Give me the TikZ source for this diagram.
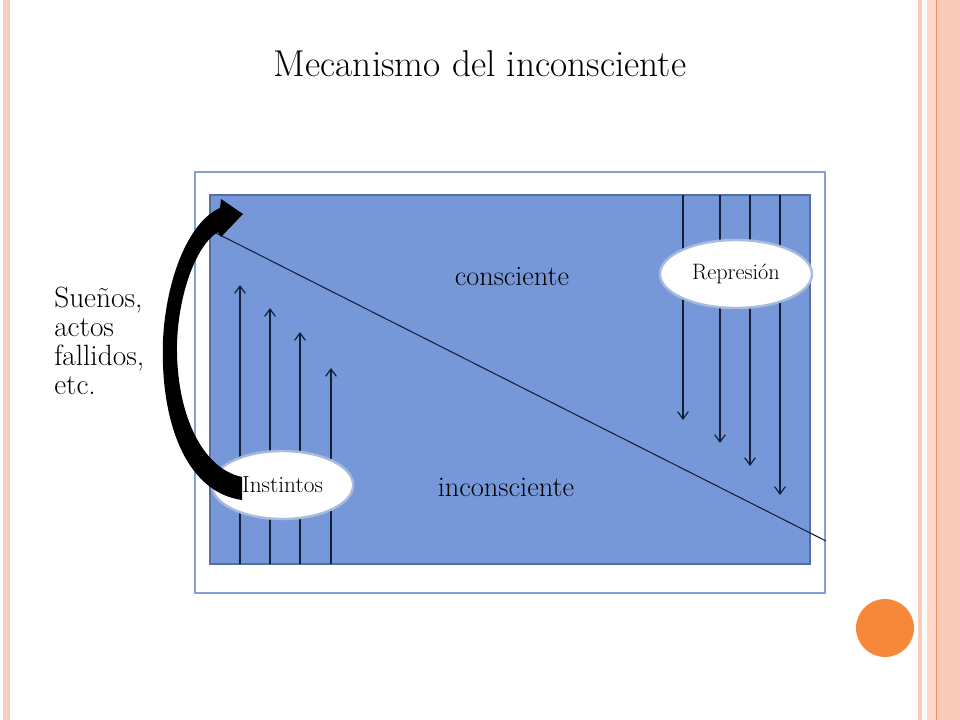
\documentclass[tikz,border=0pt]{standalone}
\usetikzlibrary{arrows.meta,shapes.geometric}
\definecolor{innerfill}{RGB}{119,152,216}
\definecolor{innerdraw}{RGB}{86,110,162}
\definecolor{framec}{RGB}{130,161,217}
\definecolor{ellborder}{RGB}{168,186,222}
\definecolor{peach}{RGB}{251,203,186}
\definecolor{peachlight}{RGB}{253,216,203}
\definecolor{orangeline}{RGB}{236,142,92}
\definecolor{orangedot}{RGB}{247,136,58}
\definecolor{navy}{RGB}{22,30,58}
\begin{document}
\begin{tikzpicture}[x=0.75pt,y=-0.75pt,
  vline/.style={navy, line width=0.9pt},
  uparrow/.style={vline, -{Straight Barb[length=5.5pt,width=8pt,line width=0.9pt]}},
  oval/.style={ellipse, draw=ellborder, fill=white, line width=1.8pt, inner sep=0pt},
  lbl/.style={inner sep=0pt, text=black}
]
\useasboundingbox (0,0) rectangle (960,720);
\fill[white] (0,0) rectangle (960,720);
% slide decoration
\fill[peach] (3,0) rectangle (10,720);
\fill[peachlight] (6,0) rectangle (7,720);
\fill[peach] (918,0) rectangle (922,720);
\fill[peachlight] (927,0) rectangle (960,720);
\fill[peach] (937,0) rectangle (960,720);
\fill[orangeline] (935.6,0) rectangle (936.8,720);
\node[circle, fill=orangedot, minimum size=43.5pt, inner sep=0pt] (dot) at (885,628) {};
% title
\node[lbl, font=\fontsize{28}{32}\selectfont] (title) at (480,64) {Mecanismo del inconsciente};
% frames
\draw[framec, line width=1.9pt, fill=white] (195,172) rectangle (825,593);
\draw[innerdraw, line width=2.2pt, fill=innerfill] (210,195) rectangle (810,564);
% upward arrows
\foreach \i/\x/\t in {1/240/285, 2/270/308, 3/300/332, 4/331/368} {
  \coordinate (ub\i) at (\x,564);
  \coordinate (ut\i) at (\x,\t);
  \draw[uparrow] (ub\i) -- (ut\i);
}
% downward arrows
\foreach \i/\x/\b in {1/683/420, 2/720/443, 3/750/466, 4/780/495} {
  \coordinate (dt\i) at (\x,195);
  \coordinate (db\i) at (\x,\b);
  \draw[uparrow] (dt\i) -- (db\i);
}
% dividing line
\coordinate (ls) at (212,231);
\coordinate (le) at (826,541);
\draw[vline, line width=0.8pt] (ls) -- (le);
% ovals
\node[oval, minimum width=114pt, minimum height=51pt, font=\fontsize{16.7}{19}\selectfont] (rep) at (736,274) {Represión};
\node[oval, minimum width=106pt, minimum height=51pt, font=\fontsize{17.5}{20}\selectfont] (inst) at (282.5,485) {Instintos};
% big curved arrow
\fill[black] (242,500) .. controls (185,492) and (160,420) .. (163,340)
  .. controls (166,280) and (188,222) .. (220,208)
  -- (221,199) -- (243,214) -- (221,237) -- (218,232)
  .. controls (196,245) and (178,295) .. (177,345)
  .. controls (176,410) and (200,468) .. (242,477) -- cycle;
% labels
\node[lbl, font=\fontsize{21.2}{24}\selectfont] (cons) at (512,276) {consciente};
\node[lbl, font=\fontsize{21.3}{24}\selectfont] (incons) at (506,487) {inconsciente};
\node[lbl, anchor=west, align=left, font=\fontsize{22}{21.75}\selectfont] (suenos) at (54,341) {Sueños,\\actos\\fallidos,\\etc.};
\end{tikzpicture}
\end{document}
